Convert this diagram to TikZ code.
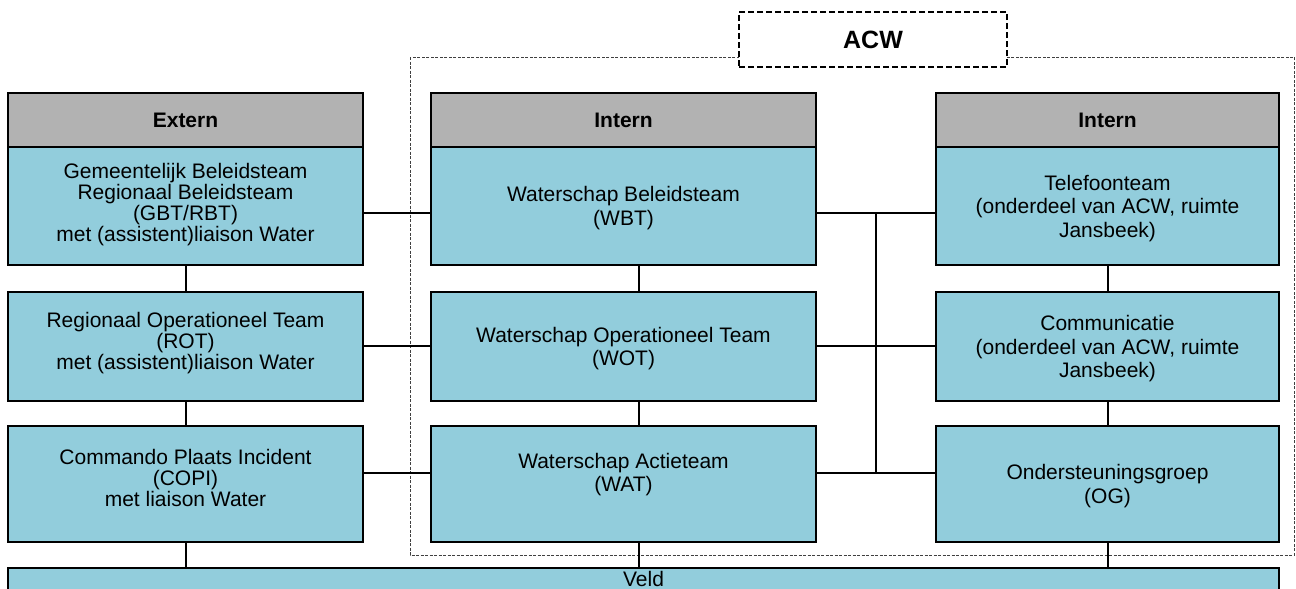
\documentclass[tikz,border=0pt]{standalone}
\usepackage{fontspec}
\setmainfont{Liberation Sans}
\definecolor{blauw}{RGB}{146,205,220}
\definecolor{grijs}{RGB}{178,178,178}
\tikzset{
  kop/.style={draw, line width=2pt, fill=grijs, inner sep=0pt, outer sep=0pt, minimum height=54pt,
    font=\fontsize{21}{23.5}\selectfont\bfseries},
  blok/.style={draw, line width=2pt, fill=blauw, inner sep=0pt, outer sep=0pt, align=center,
    font=\fontsize{21}{23.5}\selectfont, text depth=-3pt},
  extblok/.style={blok, font=\fontsize{21}{21}\selectfont, text depth=12pt},
  lijn/.style={line width=2pt}
}
\begin{document}
\begin{tikzpicture}[x=1pt, y=-1pt]
	\useasboundingbox (0,0) rectangle (1296,589);
	\clip (0,0) rectangle (1296,589);
	% ACW kader
	\draw[line width=1pt, dash pattern=on 3pt off 1.5pt, black!75] (410,57) rectangle (1294,555);
	\node[draw, line width=2pt, dash pattern=on 6pt off 3pt, fill=white, minimum width=268pt, minimum height=55pt,
	  inner sep=0pt, font=\fontsize{25}{25}\selectfont\bfseries] (acw) at (873,39.5) {ACW};
	% extern
	\node[kop, minimum width=355pt] (extkop) at (185.5,120) {Extern};
	\node[extblok, minimum width=355pt, minimum height=118pt, text depth=8pt] (gbt) at (185.5,206)
	  {Gemeentelijk Beleidsteam\\Regionaal Beleidsteam\\(GBT/RBT)\\met (assistent)liaison Water};
	\node[extblok, minimum width=355pt, minimum height=109pt] (rot) at (185.5,346.5)
	  {Regionaal Operationeel Team\\(ROT)\\met (assistent)liaison Water};
	\node[extblok, minimum width=355pt, minimum height=116pt] (copi) at (185.5,484)
	  {Commando Plaats Incident\\(COPI)\\met liaison Water};
	% intern
	\node[kop, minimum width=385pt] (intkop) at (623.5,120) {Intern};
	\node[blok, minimum width=385pt, minimum height=118pt] (wbt) at (623.5,206) {Waterschap Beleidsteam\\(WBT)};
	\node[blok, minimum width=385pt, minimum height=109pt] (wot) at (623.5,346.5) {Waterschap Operationeel Team\\(WOT)};
	\node[blok, minimum width=385pt, minimum height=116pt, text depth=23pt] (wat) at (623.5,484) {Waterschap Actieteam\\(WAT)};
	\node[kop, minimum width=343pt] (intkop2) at (1107.5,120) {Intern};
	\node[blok, minimum width=343pt, minimum height=118pt] (tel) at (1107.5,206)
	  {Telefoonteam\\(onderdeel van ACW, ruimte\\Jansbeek)};
	\node[blok, minimum width=343pt, minimum height=109pt] (com) at (1107.5,346.5)
	  {Communicatie\\(onderdeel van ACW, ruimte\\Jansbeek)};
	\node[blok, minimum width=343pt, minimum height=116pt] (og) at (1107.5,484) {Ondersteuningsgroep\\(OG)};
	% veld
	\node[blok, anchor=north, minimum width=1271pt, inner ysep=2.5pt, text height=15.5pt, text depth=12pt] (veld) at (643.5,568) {Veld};
	% verbindingen
	\coordinate (r1) at (0,213); \coordinate (r2) at (0,346); \coordinate (r3) at (0,473);
	\coordinate (bus) at (876,0); \coordinate (as) at (639,0);
	\draw[lijn] (gbt.east |- r1) -- (wbt.west |- r1); \draw[lijn] (rot.east |- r2) -- (wot.west |- r2);
	\draw[lijn] (copi.east |- r3) -- (wat.west |- r3);
	\draw[lijn] (wbt.east |- r1) -- (tel.west |- r1); \draw[lijn] (wot.east |- r2) -- (com.west |- r2);
	\draw[lijn] (wat.east |- r3) -- (og.west |- r3);
	\draw[lijn] (bus |- r1) -- (bus |- r3);
	\draw[lijn] (gbt.south) -- (rot.north); \draw[lijn] (rot.south) -- (copi.north);
	\draw[lijn] (copi.south) -- (copi.south |- veld.north);
	\draw[lijn] (wbt.south -| as) -- (wot.north -| as); \draw[lijn] (wot.south -| as) -- (wat.north -| as);
	\draw[lijn] (wat.south -| as) -- (veld.north -| as);
	\draw[lijn] (tel.south) -- (com.north); \draw[lijn] (com.south) -- (og.north);
	\draw[lijn] (og.south) -- (og.south |- veld.north);
\end{tikzpicture}
\end{document}
